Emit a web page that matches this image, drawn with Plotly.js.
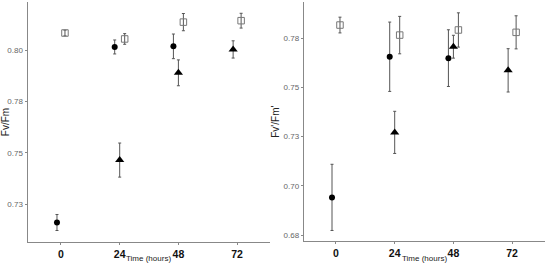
<!DOCTYPE html>
<html><head><meta charset="utf-8">
<script src="https://cdn.plot.ly/plotly-3.0.1.min.js"></script>
<style>body{margin:0;padding:0;background:#fff}#c{width:550px;height:265px}</style>
</head><body><div id="c"></div>
<script>
// Categories (time in hours)
const times = ["0", "24", "48", "72"];
// Left panel: Fv/Fm  (null = not measured)
const fvfm_circle      = [0.716, 0.8015, 0.8018, null];
const fvfm_circle_err  = [0.0039, 0.0034, 0.0060, null];
const fvfm_triangle     = [null, 0.7464, 0.7889, 0.8003];
const fvfm_triangle_err = [null, 0.0083, 0.0063, 0.0042];
const fvfm_square      = [0.8083, 0.8054, 0.8136, 0.8143];
const fvfm_square_err  = [0.0014, 0.0026, 0.0042, 0.0036];
// Right panel: Fv'/Fm'
const fvfmp_circle      = [0.6941, 0.7655, 0.7648, null];
const fvfmp_circle_err  = [0.0168, 0.0176, 0.0144, null];
const fvfmp_triangle     = [null, 0.7271, 0.7706, 0.7586];
const fvfmp_triangle_err = [null, 0.0107, 0.0058, 0.0110];
const fvfmp_square      = [0.7816, 0.7765, 0.7791, 0.7779];
const fvfmp_square_err  = [0.0040, 0.0095, 0.0087, 0.0084];
// Tick labels
const leftTickVals = [0.725, 0.75, 0.775, 0.8];
const leftTickText = ["0.73", "0.75", "0.78", "0.80"];
const rightTickVals = [0.675, 0.7, 0.725, 0.75, 0.775];
const rightTickText = ["0.68", "0.70", "0.73", "0.75", "0.78"];
const xTitle = "Time (hours)";

const DODGE = 0.085;
const styles = [
  {symbol: "circle", size: 6, color: "#000", line: {width: 0}},
  {symbol: "triangle-up", size: 8, color: "#000", line: {width: 0}},
  {symbol: "square-open", size: 6.5, color: "#777", line: {width: 1, color: "#777"}}
];

function panel(series, errs, xa, ya) {
  const traces = [];
  for (let g = 0; g < series.length; g++) {
    const xs = [], ys = [], es = [];
    times.forEach((t, i) => {
      if (series[g][i] === null) return;
      const present = series.map(s => s[i] !== null);
      const idxs = present.map((p, k) => p ? k : -1).filter(k => k >= 0);
      const n = idxs.length, pos = idxs.indexOf(g);
      xs.push(i + (pos - (n - 1) / 2) * DODGE * (n === 2 ? 1.6 : 1));
      ys.push(series[g][i]);
      es.push(errs[g][i]);
    });
    traces.push({
      type: "scatter", mode: "markers", x: xs, y: ys, xaxis: xa, yaxis: ya,
      marker: styles[g], showlegend: false, hoverinfo: "skip",
      error_y: {type: "data", array: es, visible: true, color: "#555", thickness: 1, width: 1.5}
    });
  }
  return traces;
}

const data = [].concat(
  panel([fvfm_circle, fvfm_triangle, fvfm_square], [fvfm_circle_err, fvfm_triangle_err, fvfm_square_err], "x", "y"),
  panel([fvfmp_circle, fvfmp_triangle, fvfmp_square], [fvfmp_circle_err, fvfmp_triangle_err, fvfmp_square_err], "x2", "y2")
);

const FONT = "Liberation Sans, Arial, sans-serif";
const xbase = {
  tickmode: "array", tickvals: [0, 1, 2, 3], ticktext: times,
  showgrid: false, zeroline: false, showline: true, linecolor: "#888", linewidth: 1,
  ticks: "outside", ticklen: 2, tickcolor: "#888",
  tickfont: {family: FONT, size: 10.5, color: "#111", weight: "bold"},
  automargin: false, fixedrange: true
};
const ybase = {
  showgrid: false, zeroline: false, showline: true, linecolor: "#888", linewidth: 1,
  ticks: "outside", ticklen: 2, tickcolor: "#888", tickmode: "array",
  tickfont: {family: FONT, size: 8, color: "#666"},
  automargin: false, fixedrange: true
};
const d1 = [27.5/550, 270/550], d2 = [303.7/550, 545/550];

const layout = {
  width: 550, height: 265, margin: {l: 0, r: 0, t: 0, b: 0},
  paper_bgcolor: "#fff", plot_bgcolor: "#fff", showlegend: false,
  xaxis: Object.assign({}, xbase, {domain: d1, range: [-0.57, 3.56], anchor: "y"}),
  yaxis: Object.assign({}, ybase, {domain: [1 - 242/265, 1 - 2/265], range: [0.7065, 0.8234],
    tickvals: leftTickVals, ticktext: leftTickText, anchor: "x",
    title: {text: "Fv/Fm", font: {family: FONT, size: 10, color: "#222"}, standoff: 2}}),
  xaxis2: Object.assign({}, xbase, {domain: d2, range: [-0.55, 3.56], anchor: "y2"}),
  yaxis2: Object.assign({}, ybase, {domain: [1 - 241.3/265, 1 - 2/265], range: [0.6718, 0.7933],
    tickvals: rightTickVals, ticktext: rightTickText, anchor: "x2",
    title: {text: "Fv'/Fm'", font: {family: FONT, size: 10, color: "#222"}, standoff: 2}}),
  annotations: [d1, d2].map(d => ({
    text: xTitle, xref: "paper", yref: "paper", x: (d[0] + d[1]) / 2, y: 1 - 258/265,
    xanchor: "center", yanchor: "middle", showarrow: false,
    font: {family: FONT, size: 8, color: "#222"}
  }))
};

Plotly.newPlot("c", data, layout, {staticPlot: true, displayModeBar: false});
</script></body></html>
